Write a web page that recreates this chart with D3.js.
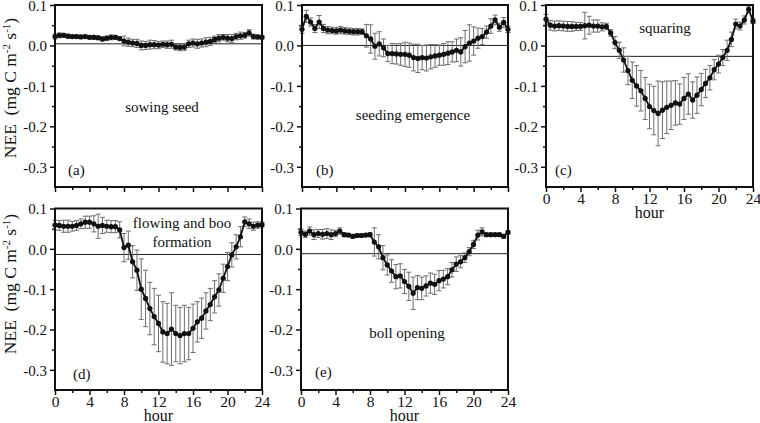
<!DOCTYPE html>
<html>
<head>
<meta charset="utf-8">
<script src="https://cdn.jsdelivr.net/npm/d3@7"></script>
<style>
  body { margin: 0; background: #fff; }
  svg { display: block; }
  text { font-family: "Liberation Serif", "Times New Roman", serif; fill: #111; }
</style>
</head>
<body>
<svg id="chart" width="760" height="423"></svg>
<script>
// half-hourly diurnal NEE per growth stage
var hours = [0,0.5,1,1.5,2,2.5,3,3.5,4,4.5,5,5.5,6,6.5,7,7.5,8,8.5,9,9.5,10,10.5,11,11.5,
  12,12.5,13,13.5,14,14.5,15,15.5,16,16.5,17,17.5,18,18.5,19,19.5,20,20.5,21,21.5,22,22.5,23,23.5,24];

var neeA = [0.022,0.025,0.025,0.023,0.022,0.022,0.021,0.022,0.020,0.020,0.019,0.016,0.018,0.020,0.020,0.017,
  0.011,0.008,0.006,0.005,0.000,0.000,0.002,0.002,0.001,0.003,0.002,0.003,-0.004,-0.005,-0.004,0.004,
  0.006,0.004,0.006,0.008,0.010,0.015,0.018,0.020,0.018,0.017,0.022,0.024,0.025,0.031,0.022,0.021,0.020];
var errA = [0.006,0.006,0.005,0.005,0.004,0.004,0.004,0.004,0.004,0.005,0.005,0.005,0.005,0.006,0.005,0.004,
  0.012,0.010,0.009,0.010,0.011,0.010,0.011,0.010,0.009,0.008,0.009,0.010,0.007,0.008,0.008,0.009,
  0.010,0.011,0.010,0.011,0.010,0.008,0.009,0.007,0.009,0.010,0.008,0.009,0.007,0.008,0.006,0.005,0.004];

var neeB = [0.040,0.072,0.058,0.042,0.058,0.042,0.038,0.037,0.036,0.038,0.036,0.035,0.034,0.034,0.034,0.024,
  0.016,-0.002,0.004,-0.006,-0.020,-0.020,-0.021,-0.022,-0.022,-0.024,-0.030,-0.032,-0.030,-0.031,-0.028,-0.026,
  -0.024,-0.022,-0.019,-0.016,-0.012,-0.016,-0.003,0.006,0.011,0.018,0.022,0.033,0.048,0.063,0.045,0.057,0.040];
var errB = [0.010,0.015,0.010,0.010,0.016,0.010,0.009,0.008,0.008,0.009,0.008,0.008,0.008,0.008,0.007,0.028,
  0.035,0.032,0.030,0.022,0.020,0.025,0.025,0.027,0.030,0.030,0.033,0.035,0.030,0.032,0.030,0.028,
  0.025,0.027,0.028,0.025,0.028,0.035,0.040,0.045,0.035,0.025,0.020,0.015,0.018,0.012,0.010,0.012,0.008];

var neeC = [0.065,0.050,0.048,0.049,0.048,0.047,0.047,0.047,0.047,0.049,0.050,0.048,0.048,0.046,0.047,0.031,
  0.007,-0.012,-0.036,-0.062,-0.086,-0.100,-0.112,-0.131,-0.151,-0.161,-0.168,-0.160,-0.153,-0.148,-0.142,-0.145,
  -0.131,-0.120,-0.135,-0.123,-0.109,-0.094,-0.080,-0.060,-0.046,-0.030,-0.012,0.015,0.053,0.048,0.063,0.089,0.060];
var errC = [0.012,0.012,0.012,0.012,0.012,0.012,0.012,0.010,0.010,0.033,0.022,0.015,0.015,0.010,0.008,0.008,
  0.015,0.020,0.030,0.035,0.045,0.050,0.050,0.052,0.055,0.060,0.080,0.070,0.065,0.060,0.055,0.050,
  0.052,0.050,0.045,0.045,0.040,0.035,0.030,0.025,0.022,0.020,0.025,0.018,0.012,0.010,0.010,0.008,0.006];

var neeD = [0.059,0.058,0.056,0.056,0.056,0.058,0.062,0.066,0.066,0.062,0.056,0.058,0.056,0.055,0.055,0.047,
  0.003,0.009,-0.032,-0.053,-0.100,-0.123,-0.148,-0.168,-0.185,-0.206,-0.210,-0.199,-0.210,-0.215,-0.210,-0.210,
  -0.197,-0.181,-0.172,-0.154,-0.138,-0.119,-0.102,-0.073,-0.044,-0.015,0.005,0.030,0.067,0.062,0.056,0.059,0.060];
var errD = [0.012,0.012,0.015,0.015,0.012,0.012,0.012,0.015,0.015,0.020,0.030,0.020,0.015,0.015,0.015,0.020,
  0.035,0.035,0.040,0.050,0.075,0.070,0.065,0.070,0.070,0.075,0.075,0.090,0.070,0.070,0.070,0.065,
  0.060,0.050,0.050,0.045,0.040,0.040,0.040,0.035,0.035,0.030,0.030,0.025,0.012,0.012,0.010,0.008,0.006];

var neeE = [0.041,0.036,0.044,0.035,0.038,0.036,0.038,0.035,0.038,0.044,0.035,0.034,0.031,0.033,0.033,0.034,
  0.035,0.017,0.005,-0.022,-0.040,-0.055,-0.069,-0.067,-0.081,-0.093,-0.110,-0.096,-0.098,-0.092,-0.085,-0.088,
  -0.079,-0.075,-0.069,-0.052,-0.038,-0.032,-0.022,-0.007,0.011,0.034,0.042,0.035,0.035,0.035,0.035,0.031,0.041];
var errE = [0.008,0.008,0.010,0.012,0.010,0.012,0.012,0.012,0.008,0.008,0.005,0.004,0.005,0.004,0.004,0.004,
  0.005,0.035,0.030,0.030,0.025,0.028,0.030,0.030,0.030,0.035,0.040,0.030,0.028,0.025,0.025,0.025,
  0.025,0.022,0.020,0.018,0.018,0.015,0.012,0.010,0.010,0.012,0.010,0.004,0.004,0.004,0.004,0.005,0.004];

// reference (zero) line level drawn in each panel
var baseLevels = [0.004, 0.0, -0.027, -0.014, -0.012];
var stageNames = [['sowing seed'], ['seeding emergence'], ['squaring'], ['flowing and boo', 'formation'], ['boll opening']];
var panelTags = ['(a)', '(b)', '(c)', '(d)', '(e)'];

var yTicks = [-0.3, -0.2, -0.1, 0.0, 0.1];
var yMinor = [-0.25, -0.15, -0.05, 0.05];
var xTicks = [0, 4, 8, 12, 16, 20, 24];
var xMinor = [2, 6, 10, 14, 18, 22];

var series = [
  { nee: neeA, err: errA }, { nee: neeB, err: errB }, { nee: neeC, err: errC },
  { nee: neeD, err: errD }, { nee: neeE, err: errE }
];

// layout of the five frames
var frames = [
  { left: 55,  top: 5,     w: 207, h: 182, xLabels: false, labelX: 162, labelY: 112, tagX: 68,  tagY: 175 },
  { left: 302, top: 5,     w: 206, h: 182, xLabels: false, labelX: 413, labelY: 120, tagX: 316, tagY: 175 },
  { left: 546, top: 5,     w: 207, h: 182, xLabels: true,  labelX: 665, labelY: 33,  tagX: 555, tagY: 175 },
  { left: 55,  top: 208.5, w: 207, h: 181.5, xLabels: true, labelX: 182, labelY: 228, tagX: 73, tagY: 379 },
  { left: 301, top: 208.5, w: 207, h: 181.5, xLabels: true, labelX: 407, labelY: 338, tagX: 315, tagY: 377 }
];

var FONT = '"Liberation Serif", "Times New Roman", serif';
var svg = d3.select('#chart');
var fmt = function(v) { return d3.format('.1f')(v).replace('\u2212', '-'); };

frames.forEach(function(f, i) {
  var s = series[i];
  var x = d3.scaleLinear().domain([0, 24]).range([f.left, f.left + f.w]);
  var y = d3.scaleLinear().domain([-0.35, 0.1]).range([f.top + f.h, f.top]);
  var g = svg.append('g');

  // y axis ticks + labels
  var yAx = d3.axisLeft(y).tickValues(yTicks).tickSize(5).tickPadding(3).tickFormat(fmt);
  var ya = g.append('g').attr('transform', 'translate(' + f.left + ',0.6)').call(yAx);
  ya.attr('font-family', FONT);
  ya.select('.domain').remove();
  ya.selectAll('line').attr('stroke', '#111').attr('stroke-width', 1.5).attr('transform', 'translate(0,-0.6)');
  ya.selectAll('text').style('font-family', FONT).style('font-size', '15px').attr('fill', '#222');
  var ym = g.append('g').attr('transform', 'translate(' + f.left + ',0)')
    .call(d3.axisLeft(y).tickValues(yMinor).tickSize(3).tickFormat(''));
  ym.select('.domain').remove();
  ym.selectAll('line').attr('stroke', '#111').attr('stroke-width', 1.5);

  // x axis ticks
  var xAx = d3.axisBottom(x).tickValues(xTicks).tickSize(5).tickPadding(1)
    .tickFormat(f.xLabels ? d3.format('d') : '');
  var xa = g.append('g').attr('transform', 'translate(0,' + (f.top + f.h) + ')').call(xAx);
  xa.attr('font-family', FONT);
  xa.select('.domain').remove();
  xa.selectAll('line').attr('stroke', '#111').attr('stroke-width', 1.5);
  xa.selectAll('text').style('font-family', FONT).style('font-size', '15.5px').attr('fill', '#222');
  var xm = g.append('g').attr('transform', 'translate(0,' + (f.top + f.h) + ')')
    .call(d3.axisBottom(x).tickValues(xMinor).tickSize(3).tickFormat(''));
  xm.select('.domain').remove();
  xm.selectAll('line').attr('stroke', '#111').attr('stroke-width', 1.5);

  if (f.xLabels) {
    g.append('text').attr('x', f.left + f.w / 2).attr('y', f.top + f.h + 30.5)
      .attr('text-anchor', 'middle').style('font-size', '16px').text('hour');
  }

  // reference line
  g.append('line')
    .attr('x1', f.left).attr('x2', f.left + f.w)
    .attr('y1', y(baseLevels[i])).attr('y2', y(baseLevels[i]))
    .attr('stroke', '#222').attr('stroke-width', 1);

  // error bars
  var eb = g.append('g').attr('stroke', '#6e6e6e').attr('stroke-width', 1);
  hours.forEach(function(h, k) {
    var cx = x(h), lo = y(s.nee[k] - s.err[k]), hi = y(s.nee[k] + s.err[k]);
    eb.append('line').attr('x1', cx).attr('x2', cx).attr('y1', lo).attr('y2', hi);
    eb.append('line').attr('x1', cx - 2.5).attr('x2', cx + 2.5).attr('y1', lo).attr('y2', lo);
    eb.append('line').attr('x1', cx - 2.5).attr('x2', cx + 2.5).attr('y1', hi).attr('y2', hi);
  });

  var line = d3.line().x(function(d, k) { return x(hours[k]); }).y(function(d) { return y(d); });
  g.append('path').datum(s.nee).attr('d', line)
    .attr('fill', 'none').attr('stroke', '#111').attr('stroke-width', 1.8);

  g.selectAll('circle.pt').data(s.nee).enter().append('circle')
    .attr('class', 'pt')
    .attr('cx', function(d, k) { return x(hours[k]); })
    .attr('cy', function(d) { return y(d); })
    .attr('r', 2.6).attr('fill', '#111');

  // frame
  g.append('rect').attr('x', f.left).attr('y', f.top).attr('width', f.w).attr('height', f.h)
    .attr('fill', 'none').attr('stroke', '#111').attr('stroke-width', 2);

  // stage label
  stageNames[i].forEach(function(t, j) {
    g.append('text').attr('x', f.labelX).attr('y', f.labelY + j * 19)
      .attr('text-anchor', 'middle').style('font-size', '15px').attr('fill', '#222').text(t);
  });
  g.append('text').attr('x', f.tagX).attr('y', f.tagY).style('font-size', '15px').attr('fill', '#222').text(panelTags[i]);
});

// y axis titles
[[16, 88], [16, 284]].forEach(function(p) {
  var t = svg.append('text')
    .attr('transform', 'translate(' + p[0] + ',' + p[1] + ') rotate(-90)')
    .attr('text-anchor', 'middle')
    .style('font-size', '17.5px')
    .style('white-space', 'pre');
  t.append('tspan').text('NEE  (mg C m');
  t.append('tspan').attr('dy', -6).style('font-size', '11px').text('-2');
  t.append('tspan').attr('dy', 6).text(' s');
  t.append('tspan').attr('dy', -6).style('font-size', '11px').text('-1');
  t.append('tspan').attr('dy', 6).text(')');
});
</script>
</body>
</html>
